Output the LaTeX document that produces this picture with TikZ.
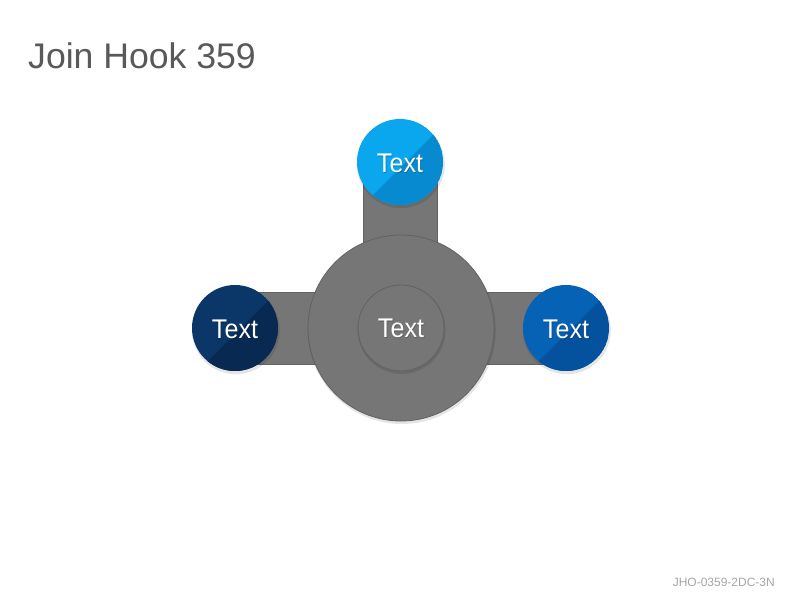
\documentclass[tikz,border=0pt]{standalone}
\usepackage{fontspec}
\setmainfont{Liberation Sans}
\usetikzlibrary{calc}
\definecolor{hubgray}{HTML}{767676}
\definecolor{hubedge}{HTML}{626262}
\definecolor{topL}{HTML}{0AA6EE}
\definecolor{topD}{HTML}{078AD0}
\definecolor{leftL}{HTML}{0B3768}
\definecolor{leftD}{HTML}{082A52}
\definecolor{rightL}{HTML}{0562B5}
\definecolor{rightD}{HTML}{04529E}
\definecolor{titlegray}{HTML}{595959}
\definecolor{footgray}{HTML}{A6A6A6}
\newcommand\lbltext{\scalebox{0.93}[1]{Text}}
\tikzset{
  hubshape/.style={circle, fill=hubgray, draw=hubedge, line width=0.8pt, inner sep=0pt},
  lbl/.style={text=white, font=\fontsize{27}{32}\selectfont, inner sep=0pt},
  lblshadow/.style={text=black, opacity=0.22, font=\fontsize{27}{32}\selectfont, inner sep=0pt},
  barshape/.style={fill=hubgray, draw=hubedge, line width=0.6pt},
  softshadow/.style={fill=black, opacity=0.10},
}
\newcommand\splitdisc[4]{%
  \fill[softshadow] ($(#2)+(0.8,2.2)$) circle (44);
  \begin{scope}
    \clip (#2) circle (43);
    \fill[#3] (#2) circle (43);
    \fill[#4] ($(#2)+(-57,63)$) -- ($(#2)+(63,-57)$) -- ($(#2)+(63,63)$) -- cycle;
  \end{scope}
  \node[lblshadow] at ($(#2)+(0.7,2.5)$) {\lbltext};
  \node[lbl, circle, minimum size=86pt] (#1) at ($(#2)+(0,1.5)$) {\lbltext};
}
\begin{document}
\begin{tikzpicture}[x=1pt,y=-1pt]
\useasboundingbox (0,0) rectangle (800,600);
\fill[white] (0,0) rectangle (800,600);
\coordinate (hubc) at (401,328);
\coordinate (topc) at (400,162);
\coordinate (leftc) at (235,328);
\coordinate (rightc) at (566,328);
% bars
\draw[barshape] ($(topc)+(-36.5,20)$) rectangle ($(hubc)+(36.5,-70)$);
\draw[barshape] ($(leftc)+(15,-36)$) rectangle ($(hubc)+(-80,36)$);
\draw[barshape] ($(hubc)+(80,-36)$) rectangle ($(rightc)+(-15,36)$);
% hub
\fill[softshadow] ($(hubc)+(0.8,2)$) circle (94);
\node[hubshape, minimum size=186pt] (hub) at (hubc) {};
\fill[softshadow] ($(hubc)+(0.6,2)$) circle (44);
\node[hubshape, minimum size=86pt] (core) at (hubc) {};
\node[lblshadow] at ($(hubc)+(0.7,1)$) {\lbltext};
\node[lbl] (corelbl) at (hubc) {\lbltext};
% outer discs
\splitdisc{top}{topc}{topL}{topD}
\splitdisc{left}{leftc}{leftL}{leftD}
\splitdisc{right}{rightc}{rightL}{rightD}
% texts
\node[anchor=base west, text=titlegray, font=\fontsize{35.6}{40}\selectfont, inner sep=0pt] (title) at (28,68) {Join Hook 359};
\node[anchor=base east, text=footgray, font=\fontsize{12}{14}\selectfont, inner sep=0pt] (foot) at (775,586) {JHO-0359-2DC-3N};
\end{tikzpicture}
\end{document}
